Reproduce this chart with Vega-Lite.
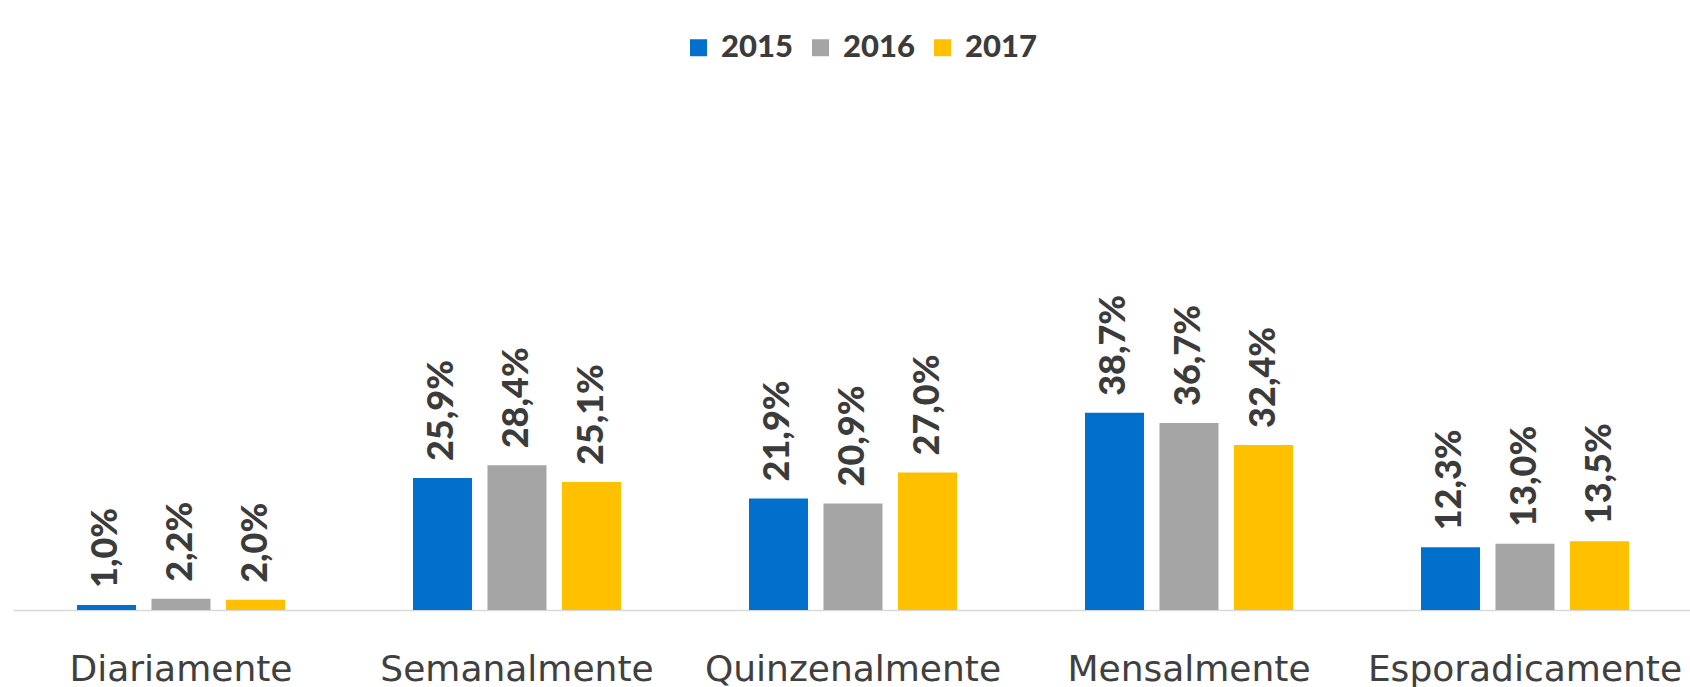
{
  "$schema": "https://vega.github.io/schema/vega-lite/v6.json",
  "width": 1680,
  "height": 530,
  "autosize": {"type": "none"},
  "padding": {"left": 13, "top": 80, "right": 0, "bottom": 77},
  "background": "white",
  "config": {
    "view": {"stroke": null},
    "locale": {"number": {"decimal": ",", "thousands": ".", "grouping": [3], "currency": ["", " €"]}}
  },
  "data": {
    "values": [
      {"freq": "Diariamente", "year": "2015", "pct": 0.010},
      {"freq": "Diariamente", "year": "2016", "pct": 0.022},
      {"freq": "Diariamente", "year": "2017", "pct": 0.020},
      {"freq": "Semanalmente", "year": "2015", "pct": 0.259},
      {"freq": "Semanalmente", "year": "2016", "pct": 0.284},
      {"freq": "Semanalmente", "year": "2017", "pct": 0.251},
      {"freq": "Quinzenalmente", "year": "2015", "pct": 0.219},
      {"freq": "Quinzenalmente", "year": "2016", "pct": 0.209},
      {"freq": "Quinzenalmente", "year": "2017", "pct": 0.270},
      {"freq": "Mensalmente", "year": "2015", "pct": 0.387},
      {"freq": "Mensalmente", "year": "2016", "pct": 0.367},
      {"freq": "Mensalmente", "year": "2017", "pct": 0.324},
      {"freq": "Esporadicamente", "year": "2015", "pct": 0.123},
      {"freq": "Esporadicamente", "year": "2016", "pct": 0.130},
      {"freq": "Esporadicamente", "year": "2017", "pct": 0.135}
    ]
  },
  "encoding": {
    "x": {
      "field": "freq", "type": "nominal",
      "sort": ["Diariamente", "Semanalmente", "Quinzenalmente", "Mensalmente", "Esporadicamente"],
      "scale": {"paddingInner": 0, "paddingOuter": 0},
      "axis": {
        "title": null, "labelAngle": 0, "labelFont": "DejaVu Sans", "labelFontSize": 36,
        "labelColor": "#404040", "ticks": false, "labelPadding": 42,
        "domainColor": "#d9d9d9", "domainWidth": 1.5, "labelOverlap": false, "labelLimit": 0
      }
    },
    "xOffset": {
      "field": "year", "type": "nominal",
      "scale": {"paddingInner": 0.208, "paddingOuter": 0.859}
    },
    "y": {"field": "pct", "type": "quantitative", "scale": {"domain": [0, 1.04]}, "axis": null}
  },
  "layer": [
    {
      "mark": {"type": "bar"},
      "encoding": {
        "color": {
          "field": "year", "type": "nominal",
          "scale": {"domain": ["2015", "2016", "2017"], "range": ["#0070CD", "#A5A5A5", "#FFC000"]},
          "legend": {
            "title": null, "orient": "none", "direction": "horizontal",
            "legendX": 670, "legendY": -48,
            "symbolType": "square", "symbolSize": 289, "symbolStrokeWidth": 0,
            "labelFont": "Lato", "labelFontWeight": 900, "labelFontSize": 31,
            "labelColor": "#3b3b3b", "labelOffset": 7, "columnPadding": 12, "padding": 0
          }
        }
      }
    },
    {
      "mark": {
        "type": "text", "angle": 270, "align": "left", "baseline": "middle", "dx": 17,
        "font": "Lato", "fontWeight": 900, "fontSize": 36, "color": "#3b3b3b"
      },
      "encoding": {"text": {"field": "pct", "type": "quantitative", "format": ".1%"}}
    }
  ]
}
